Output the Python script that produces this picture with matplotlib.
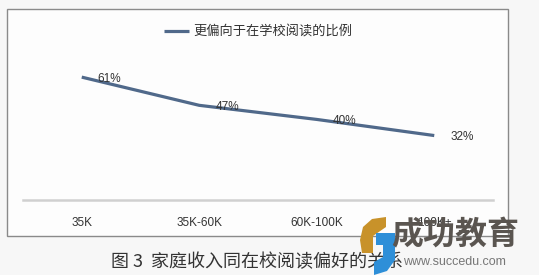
import matplotlib
matplotlib.use("Agg")
import matplotlib.pyplot as plt
from matplotlib.patches import Rectangle, Polygon

categories = ["35K", "35K-60K", "60K-100K", "100K+"]
values = [61, 47, 40, 32]
value_labels = ["61%", "47%", "40%", "32%"]
series_name = "更偏向于在学校阅读的比例"
caption = "图 3  家庭收入同在校阅读偏好的关系"
wm_title = "成功教育"
wm_url = "www.succedu.com"

CJK = ["Noto Sans CJK SC", "DejaVu Sans"]
W, H = 539, 275

def fx(px):
    return px / W

def fy(py):
    return 1 - py / H

fig = plt.figure(figsize=(W / 100, H / 100), dpi=100)
fig.patch.set_facecolor("#f7f7f7")

# chart frame
fig.patches.append(Rectangle((fx(7), fy(236)), fx(508) - fx(7), fy(9) - fy(236),
                             transform=fig.transFigure, facecolor="#fdfdfd",
                             edgecolor="#8a8a8a", linewidth=1.0, zorder=-5))

ax = fig.add_axes([fx(23), fy(200), fx(493) - fx(23), fy(59) - fy(200)])
ax.set_zorder(2)
ax.set_facecolor("none")
x = list(range(len(categories)))
line, = ax.plot(x, values, color="#50698a", linewidth=2.3, solid_capstyle="butt",
                label=series_name)
for xi, v, lab in zip(x, values, value_labels):
    ax.annotate(lab, (xi, v), xytext=(20, -1), textcoords="offset points",
                ha="center", va="center", fontsize=8.5, color="#333333",
                family=["Liberation Sans", "DejaVu Sans"])

ax.set_xlim(-0.5, len(categories) - 0.5)
ax.set_ylim(0, 70)
for s in ["left", "right", "top"]:
    ax.spines[s].set_visible(False)
ax.spines["bottom"].set_color("#d0d0d0")
ax.spines["bottom"].set_linewidth(1.8)
ax.set_yticks([])
ax.set_xticks(x)
ax.set_xticklabels(categories, fontsize=8.5, color="#333333",
                   family=["Liberation Sans", "DejaVu Sans"])
ax.tick_params(axis="x", length=0, pad=12)

leg = fig.legend(handles=[line], loc="center", bbox_to_anchor=(fx(258), fy(32)),
                 frameon=False, prop={"family": CJK, "size": 9.5},
                 handlelength=1.9, handletextpad=0.3)
for t in leg.get_texts():
    t.set_color("#333333")

fig.text(fx(257), fy(262), caption, ha="center", va="center", fontsize=13,
         family=CJK, color="#333333")

# watermark logo
fig.patches.append(Polygon([(fx(386), fy(217)), (fx(372), fy(219)), (fx(363), fy(227)),
                            (fx(360), fy(240)), (fx(362), fy(253)), (fx(373), fy(253)),
                            (fx(373), fy(236)), (fx(386), fy(227))],
                           closed=True, transform=fig.transFigure,
                           facecolor="#c8922a", edgecolor="none", zorder=5))
fig.patches.append(Polygon([(fx(395), fy(233)), (fx(395), fy(260)), (fx(387), fy(271)),
                            (fx(374), fy(275)), (fx(374), fy(262)), (fx(383), fy(257)),
                            (fx(383), fy(245)), (fx(376), fy(245)), (fx(376), fy(233))],
                           closed=True, transform=fig.transFigure,
                           facecolor="#2e8fd8", edgecolor="none", zorder=5))
fig.text(fx(455), fy(235), wm_title, ha="center", va="center", fontsize=23,
         fontweight="bold", family=CJK, color="#5a5550", zorder=6)
fig.text(fx(454), fy(262), wm_url, ha="center", va="center", fontsize=9,
         family=["Liberation Sans", "DejaVu Sans"], color="#777777", zorder=6)

fig.savefig("out.png", dpi=100, facecolor=fig.get_facecolor())
